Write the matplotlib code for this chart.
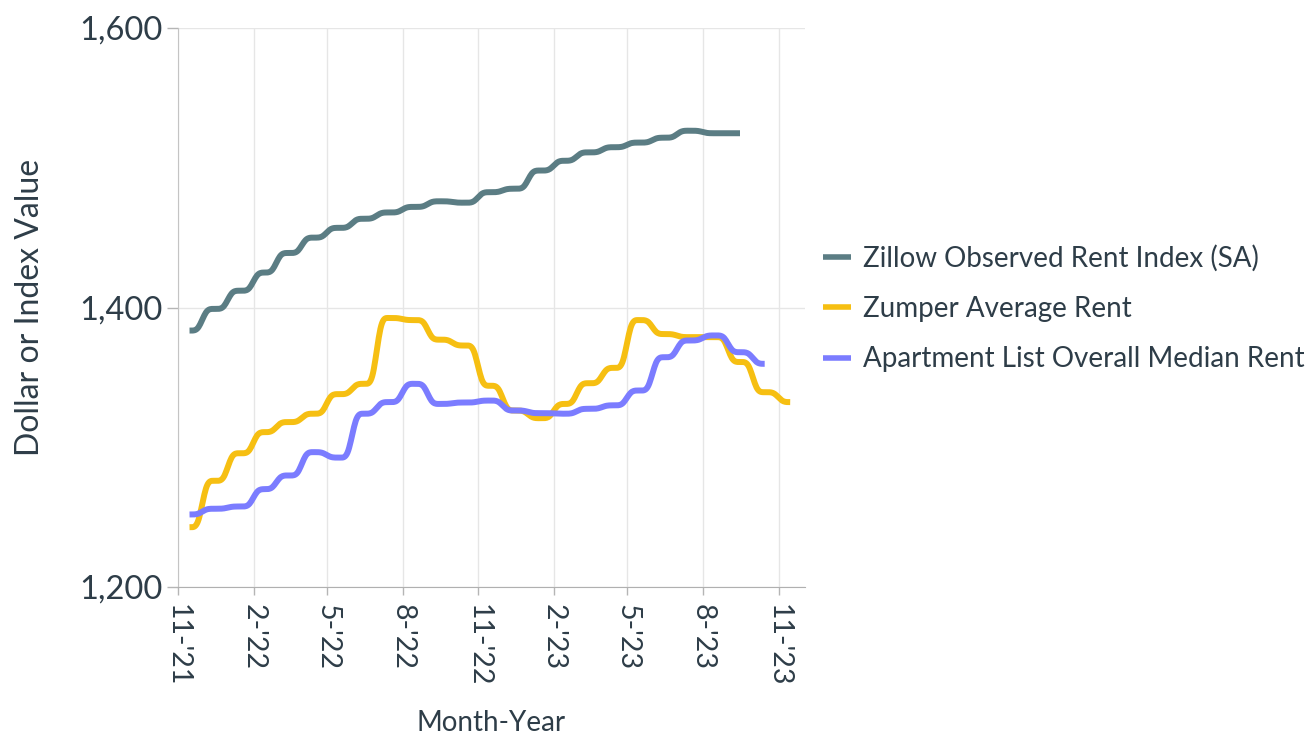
import numpy as np
import pandas as pd
import matplotlib
matplotlib.use("Agg")
import matplotlib.pyplot as plt
import matplotlib.dates as mdates

plt.rcParams['font.family'] = ['Lato', 'DejaVu Sans']

# monthly values, starting Nov 2021
zillow = [1383.5, 1399, 1412, 1425, 1439, 1450, 1457, 1463.5, 1468, 1472, 1476, 1475,
          1482.5, 1485, 1498, 1505, 1511, 1514.7, 1518, 1521.5, 1526.5, 1524.7, 1524.7]
zumper = [1242.8, 1276, 1295.7, 1310.8, 1318, 1324, 1338, 1345.4, 1392.5, 1391, 1377, 1372.8,
          1344, 1326.3, 1320.8, 1331, 1345.8, 1356.8, 1391, 1381, 1378.8, 1378.8, 1361, 1339.4, 1332.3]
aptlist = [1251.9, 1256, 1257.6, 1270, 1279.8, 1296.5, 1292.6, 1324, 1332.3, 1345.4, 1331, 1332,
           1333.4, 1326.3, 1324.4, 1324, 1327.5, 1330, 1340.6, 1364.4, 1376.4, 1380, 1368, 1359.7]

names = ["Zillow Observed Rent Index (SA)", "Zumper Average Rent", "Apartment List Overall Median Rent"]
colors = ["#5b7d84", "#f6bf12", "#7b7cff"]

tick_dates = pd.date_range("2021-11-01", "2023-11-01", freq="3MS")
tick_labels = ["11-'21", "2-'22", "5-'22", "8-'22", "11-'22", "2-'23", "5-'23", "8-'23", "11-'23"]


def monthly_curve(values, start="2021-11"):
    # hold each monthly value across its month (mid-month to mid-month span), soften the steps
    per = pd.period_range(start, periods=len(values), freq="M")
    s = pd.Series(values, index=per)
    days = pd.date_range(per[0].start_time + pd.Timedelta(days=14),
                         per[-1].start_time + pd.Timedelta(days=14), freq="D")
    y = pd.Series(s.reindex(days.to_period("M")).to_numpy())
    for _ in range(3):
        y = y.rolling(9, center=True, min_periods=1).mean()
    return days, y.to_numpy()


fig = plt.figure(figsize=(13.12, 7.37), dpi=100)
ax = fig.add_axes([178 / 1312, 1 - 587 / 737, (805 - 178) / 1312, (587 - 28) / 737])

for vals, name, c in zip([zillow, zumper, aptlist], names, colors):
    d, y = monthly_curve(vals)
    ax.plot(d, y, color=c, lw=4.3, label=name, solid_capstyle="butt")

ax.set_xlim(pd.Timestamp("2021-11-01"), pd.Timestamp("2023-12-03"))
ax.set_ylim(1200, 1600)
ax.set_yticks([1200, 1400, 1600])
ax.set_yticklabels(["1,200", "1,400", "1,600"])
ax.set_xticks(tick_dates)
ax.set_xticklabels(tick_labels, rotation=-90)

txt = "#2e3d48"
ax.tick_params(axis="y", labelsize=23.5, colors="#b5b5b5", labelcolor=txt, length=8, width=1, pad=3)
ax.tick_params(axis="x", labelsize=20.5, colors="#b5b5b5", labelcolor=txt, length=6, width=1, pad=6)
ax.grid(True, color="#e6e6e6", lw=1)
ax.set_axisbelow(True)
for s in ["top", "right"]:
    ax.spines[s].set_visible(False)
ax.spines["left"].set_color("#c4c4c4")
ax.spines["bottom"].set_color("#b0b0b0")

ax.set_xlabel("Month-Year", fontsize=20, color=txt, labelpad=17)
ax.set_ylabel("Dollar or Index Value", fontsize=23, color=txt, labelpad=25)

leg = ax.legend(loc="center left", bbox_to_anchor=((823 - 178) / 627, 0.498), frameon=False,
                borderaxespad=0, borderpad=0,
                fontsize=20, handlelength=1.0, handletextpad=0.43, labelspacing=0.88,
                labelcolor=txt)
for h in leg.legend_handles:
    h.set_linewidth(4)

fig.savefig("out.png", dpi=100)
